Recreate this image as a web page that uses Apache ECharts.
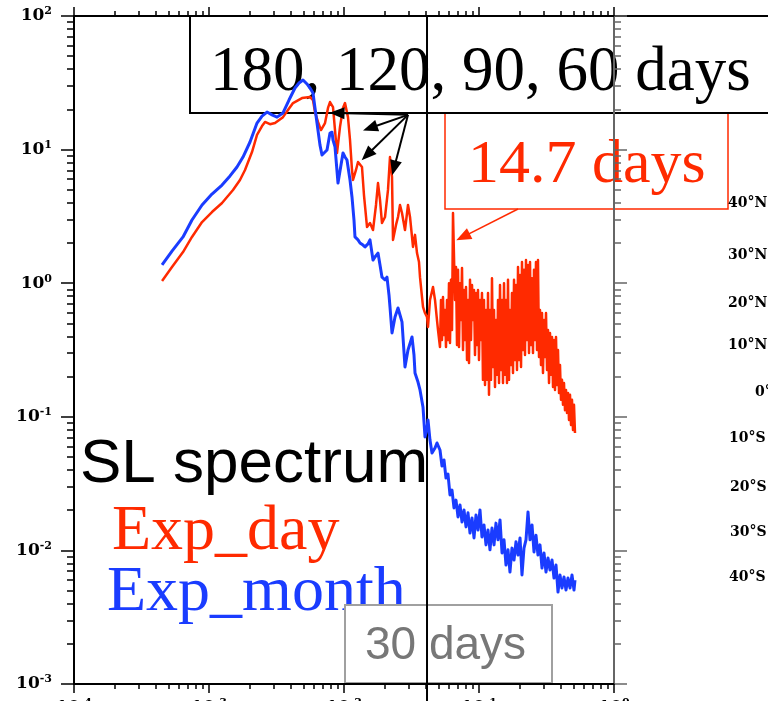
<!DOCTYPE html>
<html>
<head>
<meta charset="utf-8">
<title>SL spectrum</title>
<script src="https://cdn.jsdelivr.net/npm/echarts@6/dist/echarts.min.js"></script>
<style>
  html, body { margin: 0; padding: 0; background: #fff; }
  #chart { width: 768px; height: 701px; }
</style>
</head>
<body>
<div id="chart"></div>
<script>
// frequency in cycles/day, power
// Exp_day, low frequencies
const dayFreq = [
  4.49e-4, 5.32e-4, 6.42e-4, 7.48e-4, 8.88e-4, 1.052e-3, 1.249e-3, 1.506e-3, 1.696e-3, 1.848e-3,
  2.082e-3, 2.268e-3, 2.470e-3, 2.599e-3, 2.830e-3, 3.083e-3, 3.533e-3, 3.847e-3, 4.191e-3, 4.885e-3,
  5.599e-3, 5.893e-3, 6.097e-3, 6.418e-3, 6.755e-3, 7.233e-3, 7.613e-3, 7.876e-3, 8.290e-3, 8.577e-3,
  8.876e-3, 9.341e-3, 9.830e-3, 0.01017, 0.01070, 0.01108, 0.01146, 0.01166, 0.01227, 0.01270,
  0.01359, 0.01406, 0.01481, 0.01558, 0.01640, 0.01726, 0.01786, 0.01848, 0.01912, 0.02013,
  0.02118, 0.02191, 0.02268, 0.02307, 0.02428, 0.02512, 0.02599, 0.02689, 0.02830, 0.02979,
  0.03083, 0.03245, 0.03357, 0.03474, 0.03594, 0.03656, 0.03783, 0.03848, 0.03981, 0.04119,
  0.04190, 0.04335, 0.04563, 0.04722, 0.04885, 0.04969
];
const dayPower = [
  1.04, 1.32, 1.71, 2.22, 2.87, 3.41, 3.98, 4.99, 5.92, 7.04,
  9.59, 12.9, 15.0, 16.1, 15.5, 15.8, 17.5, 19.8, 22.3, 24.3,
  24.8, 23.5, 19.1, 16.1, 14.0, 15.8, 20.5, 22.7, 20.8, 14.0,
  9.43, 14.8, 20.5, 22.3, 17.5, 11.8, 7.04, 5.92, 7.04, 8.08,
  7.41, 4.57, 2.63, 2.82, 2.50, 3.85, 5.62, 4.20, 2.82, 3.13,
  4.99, 8.80, 6.24, 2.11, 2.73, 3.13, 3.85, 3.35, 2.50, 3.85,
  3.13, 1.87, 2.30, 1.68, 1.44, 1.11, 0.788, 0.664, 0.598, 0.558,
  0.470, 0.749, 0.937, 0.749, 0.530, 0.447
];
// high frequency part, one reading per screen pixel
const hfFreq = [
  0.05141, 0.05229, 0.05320, 0.05411, 0.05505, 0.05599, 0.05695, 0.05794, 0.05893, 0.05994,
  0.06097, 0.06202, 0.06310, 0.06418, 0.06528, 0.06641, 0.06755, 0.06871, 0.06990, 0.07110,
  0.07233, 0.07357, 0.07484, 0.07613, 0.07743, 0.07876, 0.08012, 0.08150, 0.08290, 0.08433,
  0.08577, 0.08724, 0.08876, 0.09028, 0.09184, 0.09341, 0.09502, 0.09665, 0.09830, 0.1000,
  0.1017, 0.1034, 0.1052, 0.1070, 0.1089, 0.1108, 0.1127, 0.1146, 0.1166, 0.1186,
  0.1206, 0.1227, 0.1248, 0.1270, 0.1292, 0.1314, 0.1336, 0.1359, 0.1383, 0.1407,
  0.1431, 0.1456, 0.1481, 0.1506, 0.1532, 0.1558, 0.1585, 0.1612, 0.1640, 0.1668,
  0.1696, 0.1725, 0.1755, 0.1786, 0.1817, 0.1848, 0.1880, 0.1912, 0.1945, 0.1979,
  0.2013, 0.2048, 0.2082, 0.2118, 0.2154, 0.2191, 0.2229, 0.2268, 0.2307, 0.2346,
  0.2387, 0.2428, 0.2470, 0.2512, 0.2555, 0.2599, 0.2643, 0.2689, 0.2735, 0.2783,
  0.2830, 0.2879, 0.2929, 0.2979, 0.3030, 0.3082, 0.3136, 0.3190, 0.3245, 0.3301,
  0.3357, 0.3415, 0.3474, 0.3534, 0.3594, 0.3656, 0.3719, 0.3783, 0.3848, 0.3914,
  0.3981, 0.4050, 0.4119, 0.4190, 0.4262, 0.4335, 0.4410, 0.4486, 0.4563, 0.4642,
  0.4722, 0.4803, 0.4885, 0.4969, 0.5054, 0.5141
];
const dayPowerHF = [
  0.333, 0.749, 0.376, 0.788, 0.410, 0.630, 0.333, 0.749, 0.376, 1.00,
  0.357, 1.06, 0.447, 3.35, 3.24, 0.749, 1.32, 0.345, 1.26, 0.333,
  1.00, 0.530, 1.30, 0.316, 0.889, 0.376, 0.937, 0.266, 0.749, 0.253,
  1.06, 0.376, 0.969, 0.530, 0.889, 0.290, 0.845, 0.345, 0.889, 0.266,
  0.749, 0.376, 0.845, 0.189, 0.749, 0.173, 0.630, 0.189, 0.845, 0.146,
  0.630, 0.189, 1.09, 0.236, 0.630, 0.167, 0.530, 0.206, 0.749, 0.179,
  0.969, 0.224, 0.749, 0.179, 1.00, 0.206, 0.749, 0.179, 1.06, 0.189,
  0.630, 0.244, 0.845, 0.213, 1.06, 0.266, 0.969, 0.224, 1.32, 0.266,
  1.15, 0.236, 1.44, 0.316, 1.26, 0.290, 1.49, 0.376, 1.37, 0.300,
  1.44, 0.345, 1.09, 0.300, 1.26, 0.376, 1.44, 0.316, 1.49, 0.280,
  0.630, 0.244, 0.598, 0.213, 0.530, 0.280, 0.598, 0.224, 0.447, 0.179,
  0.424, 0.206, 0.396, 0.167, 0.376, 0.159, 0.396, 0.173, 0.316, 0.151,
  0.244, 0.134, 0.189, 0.123, 0.179, 0.112, 0.159, 0.107, 0.151, 0.0946,
  0.146, 0.0868, 0.134, 0.0796, 0.123, 0.0756
];
// Exp_month
const monthFreq = [
  4.49e-4, 5.32e-4, 6.42e-4, 7.48e-4, 8.88e-4, 1.052e-3, 1.249e-3, 1.431e-3, 1.612e-3, 1.786e-3,
  2.013e-3, 2.268e-3, 2.470e-3, 2.689e-3, 2.929e-3, 3.190e-3, 3.533e-3, 3.914e-3, 4.335e-3, 4.642e-3,
  4.969e-3, 5.320e-3, 5.599e-3, 5.893e-3, 6.097e-3, 6.310e-3, 6.641e-3, 6.871e-3, 7.233e-3, 7.484e-3,
  7.876e-3, 8.150e-3, 8.290e-3, 8.577e-3, 9.028e-3, 9.341e-3, 9.830e-3, 0.01017, 0.01052, 0.01108,
  0.01146, 0.01186, 0.01206, 0.01270, 0.01314, 0.01383, 0.01431, 0.01506, 0.01558, 0.01640,
  0.01696, 0.01786, 0.01848, 0.01912, 0.02013, 0.02082, 0.02154, 0.02191, 0.02268, 0.02387,
  0.02512, 0.02599, 0.02689, 0.02830, 0.02979, 0.03190, 0.03300, 0.03357, 0.03533, 0.03656,
  0.03848, 0.03981, 0.04119, 0.04190, 0.04335, 0.04486, 0.04722, 0.04885,
  0.05141, 0.05320, 0.05505, 0.05695, 0.05893, 0.06097, 0.06310, 0.06528, 0.06755, 0.06990,
  0.07233, 0.07484, 0.07743, 0.08012, 0.08290, 0.08577, 0.08876, 0.09184, 0.09502, 0.09830,
  0.1017, 0.1052, 0.1089, 0.1127, 0.1166, 0.1206, 0.1248, 0.1292, 0.1336, 0.1383,
  0.1431, 0.1481, 0.1532, 0.1585, 0.1640, 0.1696, 0.1755, 0.1817, 0.1880, 0.1945,
  0.2013, 0.2082, 0.2154, 0.2229, 0.2307, 0.2387, 0.2470, 0.2555, 0.2643, 0.2735,
  0.2830, 0.2929, 0.3030, 0.3136, 0.3245, 0.3357, 0.3474, 0.3594, 0.3719, 0.3848,
  0.3981, 0.4119, 0.4262, 0.4410, 0.4563, 0.4722, 0.4885, 0.5054, 0.5141
];
const monthPower = [
  1.37, 1.74, 2.22, 2.97, 3.85, 4.65, 5.43, 6.35, 7.41, 8.80,
  11.4, 15.8, 17.8, 19.1, 18.2, 17.5, 18.8, 23.5, 28.9, 31.5,
  33.2, 31.0, 28.9, 26.5, 20.5, 15.8, 10.8, 9.11, 9.59, 9.93,
  13.3, 13.5, 11.8, 10.5, 5.62, 5.53, 9.43, 8.80, 8.36, 5.92,
  4.42, 2.97, 2.22, 2.11, 2.00, 1.93, 1.87, 1.97, 2.11, 1.49,
  1.57, 1.68, 1.37, 1.11, 1.06, 1.11, 0.816, 0.664, 0.424, 0.558,
  0.652, 0.578, 0.513, 0.236, 0.316, 0.396, 0.290, 0.213, 0.182, 0.159,
  0.118, 0.0706, 0.0824, 0.0946, 0.0670, 0.0536, 0.0584, 0.0637,
  0.0564, 0.0428, 0.0475, 0.0348, 0.0373, 0.0260, 0.0283, 0.0208, 0.0238, 0.0178,
  0.0219, 0.0163, 0.0201, 0.0150, 0.0191, 0.0135, 0.0175, 0.0124, 0.0184, 0.0142,
  0.0201, 0.0126, 0.0155, 0.0110, 0.0142, 0.0101, 0.0147, 0.0110, 0.0160, 0.0120,
  0.0169, 0.00956, 0.0120, 0.00777, 0.0101, 0.00689, 0.0104, 0.00848, 0.0116, 0.00924,
  0.0124, 0.00655, 0.0104, 0.0120, 0.0194, 0.0120, 0.0155, 0.00973, 0.0130, 0.00924,
  0.0110, 0.00738, 0.00956, 0.00689, 0.00877, 0.00713, 0.00848, 0.00621, 0.00777, 0.00488,
  0.00655, 0.00523, 0.00632, 0.00505, 0.00621, 0.00523, 0.00655, 0.00505, 0.00600
];

const xMajor = [1e-4, 1e-3, 1e-2, 1e-1, 1];
const yMajor = [1e-3, 1e-2, 1e-1, 1, 10, 100];
const periodLineFreq = 0.0412;            // the "30 days" line as drawn
const arrowTail = [0.0298, 18.2];
const arrowTips = [[0.00888, 18.8], [0.0156, 14.5], [0.0148, 9.11], [0.0235, 7.28]];
const peakArrow = [[0.1945, 3.59], [0.0761, 2.22]];
const latLabels = ['40°N', '30°N', '20°N', '10°N', '0°', '10°S', '20°S', '30°S', '40°S'];

const RED = '#ff2a00';
const BLUE = '#1a3cff';

function minorOf(majors) {
  const out = [];
  for (let i = 0; i < majors.length - 1; i++) {
    for (let k = 2; k <= 9; k++) out.push(+(k * majors[i]).toPrecision(3));
  }
  return out;
}

const supRich = {
  b: { fontFamily: 'DejaVu Serif', fontWeight: 'bold', fontSize: 17, color: '#000', lineHeight: 20 },
  s: { fontFamily: 'DejaVu Serif', fontWeight: 'bold', fontSize: 11, color: '#000', verticalAlign: 'top', lineHeight: 13 }
};
const powLabel = v => '{b|10}{s|' + Math.round(Math.log10(v)) + '}';

function axis(pos, min, max, ticks, len, color, showLine, label) {
  return {
    type: 'log', logBase: 10, min: min, max: max, position: pos, gridIndex: 0, z: 5,
    axisLine: { show: showLine, onZero: false, lineStyle: { color: color, width: 2 } },
    axisTick: { show: true, inside: false, length: len, customValues: ticks, lineStyle: { color: color, width: 1.5 } },
    axisLabel: label
      ? Object.assign({ customValues: ticks, formatter: powLabel, rich: supRich }, label)
      : { show: false },
    splitLine: { show: false },
    minorTick: { show: false }
  };
}

const chart = echarts.init(document.getElementById('chart'));

const option = {
  animation: false,
  backgroundColor: '#fff',
  grid: { left: 74, right: 154, top: 16, bottom: 17, containLabel: false, outerBoundsMode: 'none' },
  xAxis: [
    axis('bottom', 1e-4, 1, xMajor, 9, '#000', true, { margin: 14 }),
    axis('bottom', 1e-4, 1, minorOf(xMajor), 5, '#000', false),
    axis('top', 1e-4, 1, xMajor, 9, '#000', true),
    axis('top', 1e-4, 1, minorOf(xMajor), 5, '#000', false)
  ],
  yAxis: [
    axis('left', 1e-3, 100, yMajor, 13, '#000', true, { margin: 22 }),
    axis('left', 1e-3, 100, minorOf(yMajor), 7, '#000', false),
    axis('right', 1e-3, 100, yMajor, 13, '#666', true),
    axis('right', 1e-3, 100, minorOf(yMajor), 7, '#666', false)
  ],
  series: [
    {
      name: 'Exp_day', type: 'line', xAxisIndex: 0, yAxisIndex: 0,
      data: dayFreq.concat(hfFreq).map((f, i) => [f, dayPower.concat(dayPowerHF)[i]]),
      showSymbol: false, symbol: 'none',
      lineStyle: { color: RED, width: 2.5, join: 'round' },
      markLine: {
        silent: true, animation: false,
        symbol: ['none', 'triangle'], symbolSize: [12, 15],
        label: { show: false },
        lineStyle: { color: '#000', width: 2, type: 'solid' },
        data: arrowTips.map(t => [{ coord: arrowTail }, { coord: t }]).concat([
          [{ coord: peakArrow[0], lineStyle: { color: RED, width: 1.5, type: 'solid' } }, { coord: peakArrow[1] }]
        ])
      }
    },
    {
      name: 'Exp_month', type: 'line', xAxisIndex: 0, yAxisIndex: 0,
      data: monthFreq.map((f, i) => [f, monthPower[i]]),
      showSymbol: false, symbol: 'none',
      lineStyle: { color: BLUE, width: 3, join: 'round' }
    }
  ]
};
chart.setOption(option);

// annotations of the slide
const latX = [728, 728, 728, 728, 755, 729, 730, 730, 729];
const latY = [203, 255, 303, 345, 392, 438, 487, 532, 577];
function txt(text, x, y, font, fill) {
  return { type: 'text', x: x, y: y, z: 1, silent: true,
    style: { text: text, font: font, fill: fill, textAlign: 'left', textVerticalAlign: 'middle' } };
}
const lineX = chart.convertToPixel({ xAxisIndex: 0 }, periodLineFreq);
chart.setOption({
  graphic: [
    { type: 'rect', z: 1, silent: true, shape: { x: 445, y: 112, width: 283, height: 97 }, style: { fill: '#fff', stroke: RED, lineWidth: 1.5 } },
    { type: 'rect', z: 1, silent: true, shape: { x: 190, y: 16, width: 600, height: 97 }, style: { fill: '#fff', stroke: '#000', lineWidth: 2 } },
    txt('180, 120, 90, 60 days', 210, 73, '63px "Liberation Serif"', '#000'),
    txt('14.7 days', 468, 166, '62px "Liberation Serif"', RED),
    txt('SL spectrum', 80, 465, '62px "Liberation Sans"', '#000'),
    txt('Exp_day', 112, 532, '64px "Liberation Serif"', RED),
    txt('Exp_month', 107, 593, '64px "Liberation Serif"', BLUE),
    { type: 'rect', z: 1, silent: true, shape: { x: 345, y: 605, width: 207, height: 78 }, style: { fill: '#fff', stroke: '#a0a0a0', lineWidth: 2 } },
    txt('30 days', 365, 646, '46px "Liberation Sans"', '#777'),
    ...latLabels.map((t, i) => txt(t, latX[i], latY[i], 'bold 14px "DejaVu Serif"', '#000')),
    { type: 'line', z: 3, silent: true, shape: { x1: lineX, y1: 16, x2: lineX, y2: 701 }, style: { stroke: '#000', lineWidth: 2 } }
  ]
});
</script>
</body>
</html>
